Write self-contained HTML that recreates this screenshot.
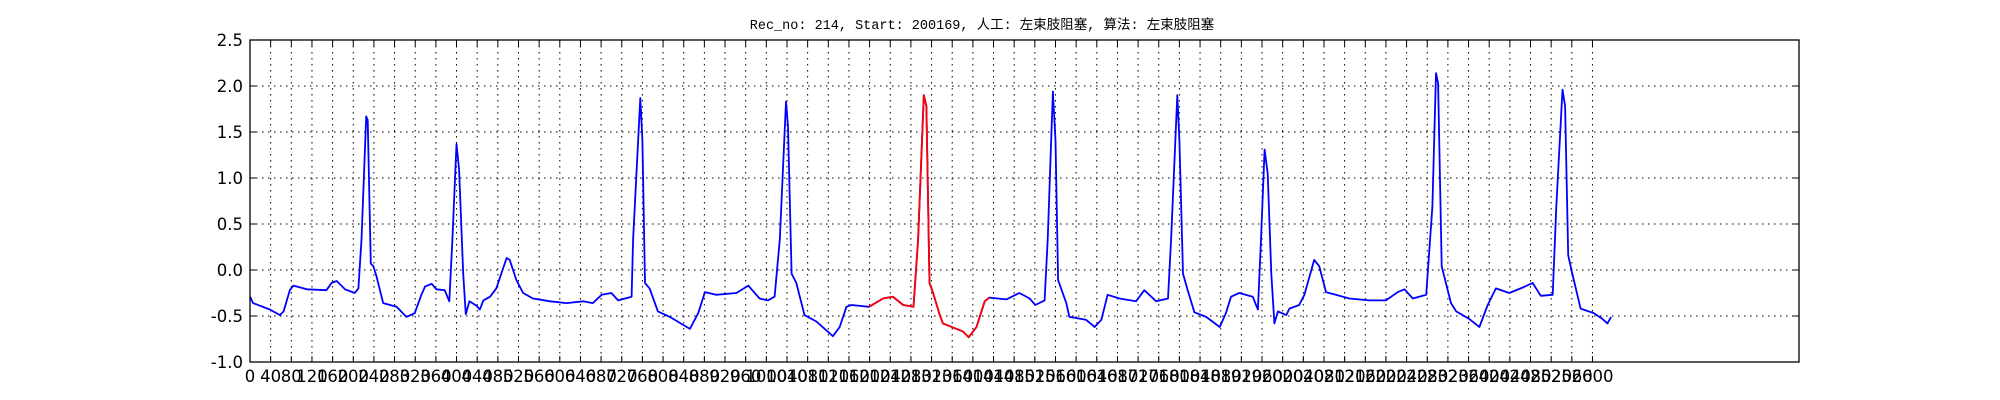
<!DOCTYPE html>
<html><head><meta charset="utf-8"><style>
html,body{margin:0;padding:0;background:#fff;}
svg{display:block;}
</style></head><body>
<svg id="chart" width="2000" height="400" xmlns="http://www.w3.org/2000/svg">
<rect width="2000" height="400" fill="#fff"/>
<text x="982" y="29" text-anchor="middle" font-family="'Liberation Mono','Noto Sans CJK SC',monospace" font-size="13.5" fill="#000">Rec_no: 214, Start: 200169, 人工: 左束肢阻塞, 算法: 左束肢阻塞</text>
<g id="grid"></g>
<g id="series"></g>
<g id="axes"></g>
</svg>
<script>
const sampleIdx = [0,6,39,58,65,77,84,110,148,158,168,184,203,210,216,225,228,234,239,245,258,284,303,319,332,339,352,361,377,386,392,400,405,413,418,425,439,445,452,465,477,497,503,516,529,548,581,613,645,664,681,700,713,739,742,756,760,765,774,790,813,852,868,881,903,942,965,987,1003,1016,1026,1038,1042,1049,1058,1074,1097,1129,1142,1155,1165,1199,1226,1245,1265,1285,1294,1305,1310,1316,1323,1336,1342,1381,1392,1407,1423,1432,1465,1490,1510,1521,1539,1545,1555,1560,1565,1581,1587,1619,1636,1649,1661,1684,1716,1732,1755,1778,1784,1796,1800,1807,1816,1829,1852,1878,1890,1900,1916,1942,1952,1958,1965,1971,1978,1984,1991,2007,2013,2032,2042,2061,2071,2084,2103,2129,2168,2200,2223,2236,2252,2278,2290,2297,2301,2308,2326,2336,2361,2381,2397,2413,2439,2465,2484,2500,2523,2530,2542,2547,2553,2561,2577,2603,2619,2629,2636];
const ecgValues = [-0.29,-0.36,-0.43,-0.49,-0.45,-0.22,-0.17,-0.21,-0.22,-0.14,-0.12,-0.21,-0.25,-0.20,0.33,1.67,1.63,0.07,0.04,-0.07,-0.36,-0.40,-0.51,-0.47,-0.27,-0.18,-0.15,-0.21,-0.22,-0.34,0.33,1.37,1.09,-0.04,-0.48,-0.34,-0.39,-0.43,-0.33,-0.29,-0.20,0.13,0.11,-0.11,-0.25,-0.31,-0.34,-0.36,-0.34,-0.36,-0.27,-0.25,-0.33,-0.29,0.33,1.87,1.41,-0.14,-0.20,-0.45,-0.51,-0.64,-0.47,-0.24,-0.27,-0.25,-0.17,-0.31,-0.33,-0.29,0.33,1.83,1.56,-0.04,-0.14,-0.49,-0.56,-0.72,-0.62,-0.40,-0.38,-0.40,-0.31,-0.29,-0.38,-0.40,0.33,1.90,1.78,-0.14,-0.25,-0.49,-0.58,-0.67,-0.73,-0.62,-0.34,-0.30,-0.32,-0.25,-0.31,-0.38,-0.33,0.33,1.94,1.41,-0.11,-0.36,-0.51,-0.54,-0.62,-0.54,-0.27,-0.31,-0.34,-0.22,-0.34,-0.31,0.33,1.90,1.41,-0.04,-0.22,-0.46,-0.51,-0.62,-0.47,-0.29,-0.25,-0.29,-0.43,0.33,1.31,1.05,-0.04,-0.58,-0.45,-0.49,-0.42,-0.38,-0.27,0.11,0.04,-0.24,-0.27,-0.31,-0.33,-0.33,-0.24,-0.21,-0.31,-0.27,0.69,2.14,2.03,0.04,-0.36,-0.45,-0.53,-0.62,-0.38,-0.20,-0.25,-0.19,-0.14,-0.28,-0.27,0.69,1.96,1.78,0.16,-0.04,-0.42,-0.47,-0.53,-0.58,-0.51];
const redRange = [1199, 1432];
const yTicks = [-1.0,-0.5,0.0,0.5,1.0,1.5,2.0,2.5];
const xTickStep = 40;
const xTickMax = 2600;
const xDomain = [0, 3000];
const yDomain = [-1, 2.5];

const L=250,R=1799,T=40,B=362;
const NS='http://www.w3.org/2000/svg';
const sx=v=>L+(v-xDomain[0])/(xDomain[1]-xDomain[0])*(R-L);
const sy=v=>B-(v-yDomain[0])/(yDomain[1]-yDomain[0])*(B-T);
function mk(tag,attrs,parent){const e=document.createElementNS(NS,tag);for(const k in attrs)e.setAttribute(k,attrs[k]);parent.appendChild(e);return e;}
const grid=document.getElementById('grid'),axes=document.getElementById('axes'),series=document.getElementById('series');
const xTicks=[];for(let v=0;v<=xTickMax;v+=xTickStep)xTicks.push(v);
xTicks.forEach(v=>{const x=sx(v);
 const g=mk('line',{x1:x,x2:x,y1:T,y2:B,stroke:'#000','stroke-width':1,'stroke-dasharray':'1.5,4.5'},grid);
 
 
 mk('line',{x1:x,x2:x,y1:B,y2:B-6,stroke:'#000','stroke-width':1},axes);
 mk('line',{x1:x,x2:x,y1:T,y2:T+6,stroke:'#000','stroke-width':1},axes);
 const t=mk('text',{x:x,y:B+20,'text-anchor':'middle','font-family':"'DejaVu Sans','Liberation Sans',sans-serif",'font-size':16.5,fill:'#000'},axes);
 t.textContent=String(v);
 
 
});
yTicks.forEach(v=>{const y=sy(v);
 const g=mk('line',{x1:L,x2:R,y1:y,y2:y,stroke:'#000','stroke-width':1,'stroke-dasharray':'1.5,4.5'},grid);
 
 
 mk('line',{x1:L,x2:L+6,y1:y,y2:y,stroke:'#000','stroke-width':1},axes);
 mk('line',{x1:R,x2:R-6,y1:y,y2:y,stroke:'#000','stroke-width':1},axes);
 const t=mk('text',{x:L-7,y:y+6,'text-anchor':'end','font-family':"'DejaVu Sans','Liberation Sans',sans-serif",'font-size':16.5,fill:'#000'},axes);
 t.textContent=v.toFixed(1);
 
 
});
const frame=mk('rect',{x:L,y:T,width:R-L,height:B-T,fill:'none',stroke:'#000','stroke-width':1.3},axes);


const allPts=sampleIdx.map((s,i)=>sx(s).toFixed(1)+','+sy(ecgValues[i]).toFixed(1)).join(' ');
const blue=mk('polyline',{points:allPts,fill:'none',stroke:'#0000ff','stroke-width':1.8,'stroke-linejoin':'round'},series);


const redPts=sampleIdx.map((s,i)=>[s,ecgValues[i]]).filter(p=>p[0]>=redRange[0]&&p[0]<=redRange[1]).map(p=>sx(p[0]).toFixed(1)+','+sy(p[1]).toFixed(1)).join(' ');
const red=mk('polyline',{points:redPts,fill:'none',stroke:'#ff0000','stroke-width':1.8,'stroke-linejoin':'round'},series);


</script>
</body></html>
